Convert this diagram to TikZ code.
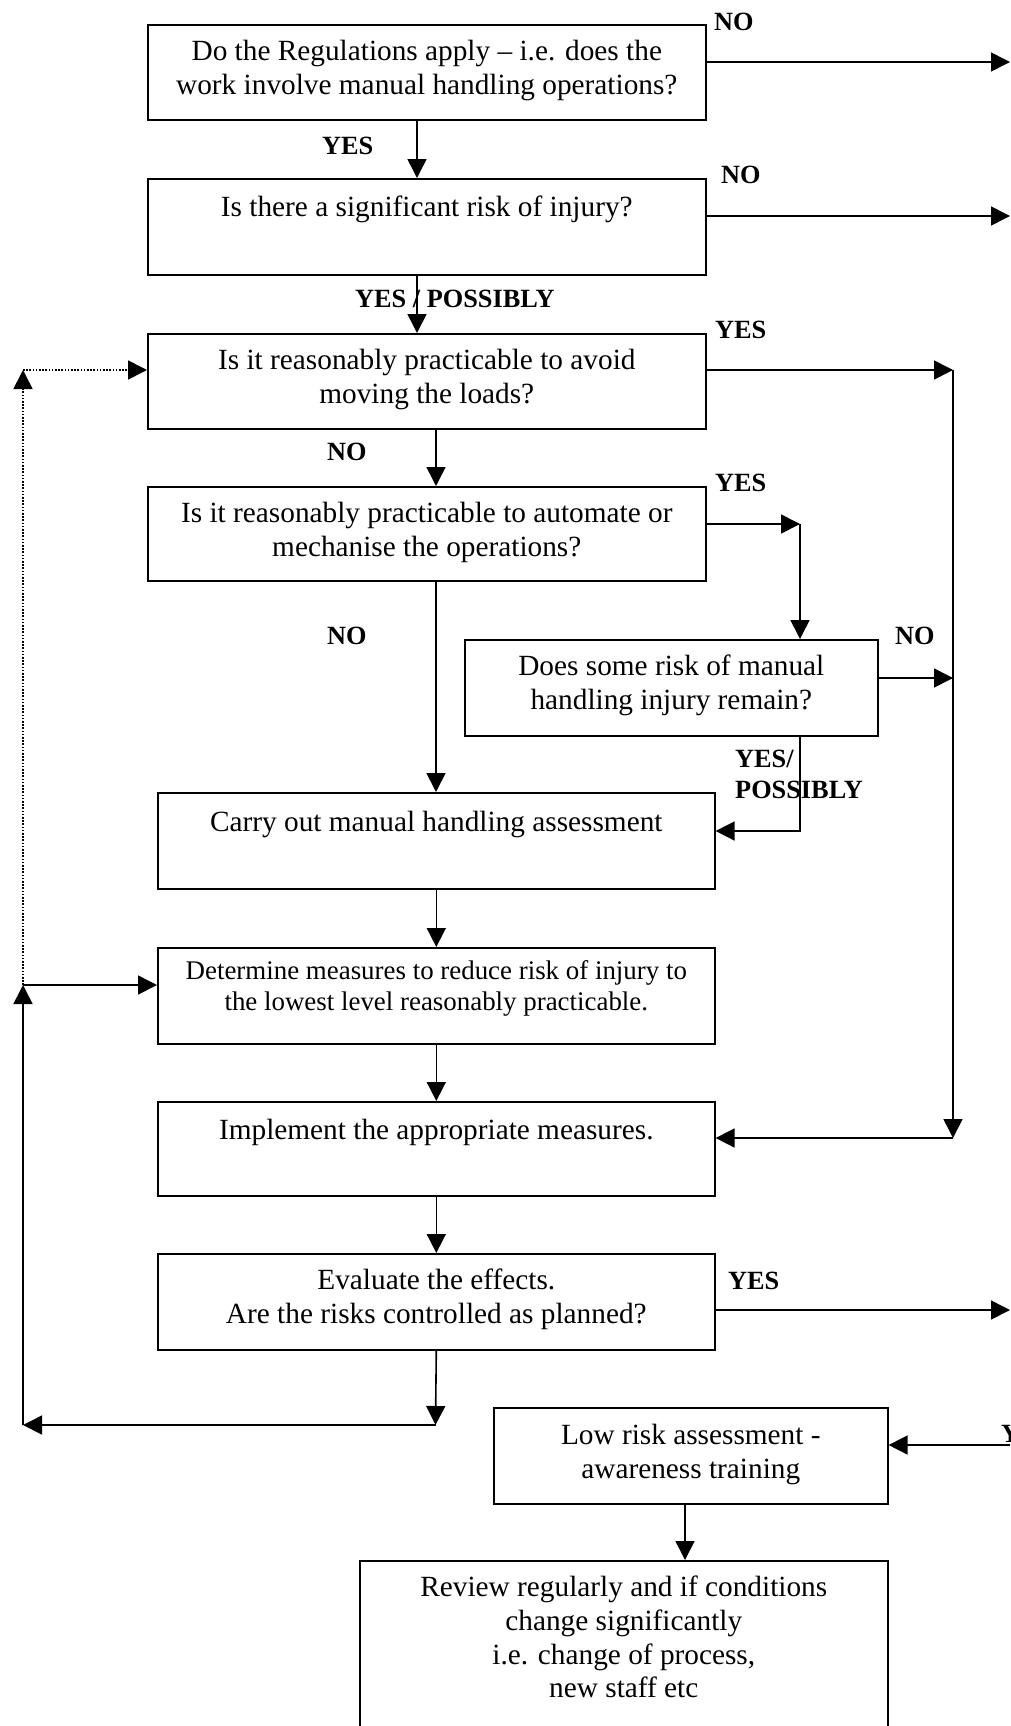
\documentclass[tikz,border=0pt]{standalone}
\usepackage{fontspec}
\setmainfont{Liberation Serif}
\usetikzlibrary{arrows.meta}
\begin{document}
\begin{tikzpicture}[x=1pt,y=-1pt,
  box/.style={draw, line width=1.6pt, inner sep=0pt, anchor=north west, rectangle},
  txt/.style={anchor=north, inner sep=0pt, align=center, font=\fontsize{29.3}{33.7}\selectfont, execute at begin node={\rule{0pt}{22pt}}},
  txtsmall/.style={anchor=north, inner sep=0pt, align=center, font=\fontsize{26.9}{31}\selectfont, execute at begin node={\rule{0pt}{22pt}}},
  lbl/.style={anchor=base west, inner sep=0pt, font=\fontsize{26.3}{30}\selectfont\bfseries},
  arr/.style={line width=1.6pt, -{Triangle[length=19pt,width=19pt]}},
  dots/.style={line width=1.6pt, dash pattern=on 1.6pt off 1.6pt, -{Triangle[length=19pt,width=19pt]}}
]
\useasboundingbox (0,0) rectangle (1010,1726);

% boxes
\node[box, minimum width=558pt, minimum height=95pt] (b1) at (147,24) {};
\node[box, minimum width=558pt, minimum height=96pt] (b2) at (147,178) {};
\node[box, minimum width=558pt, minimum height=95pt] (b3) at (147,333) {};
\node[box, minimum width=558pt, minimum height=94pt] (b4) at (147,486) {};
\node[box, minimum width=413pt, minimum height=96pt] (b5) at (464,639) {};
\node[box, minimum width=557pt, minimum height=96pt] (b6) at (157,792) {};
\node[box, minimum width=557pt, minimum height=96pt] (b7) at (157,947) {};
\node[box, minimum width=557pt, minimum height=94pt] (b8) at (157,1101) {};
\node[box, minimum width=557pt, minimum height=96pt] (b9) at (157,1253) {};
\node[box, minimum width=394pt, minimum height=96pt] (b10) at (493,1407) {};
\node[box, minimum width=528pt, minimum height=180pt] (b11) at (359,1560) {};

% texts
\node[txt] (t1) at ([yshift=-16pt]b1.north) {Do the Regulations apply -- i.e. does the\\work involve manual handling operations?};
\node[txt] (t2) at ([yshift=-16pt]b2.north) {Is there a significant risk of injury?};
\node[txt] (t3) at ([yshift=-16pt]b3.north) {Is it reasonably practicable to avoid\\moving the loads?};
\node[txt] (t4) at ([yshift=-16pt]b4.north) {Is it reasonably practicable to automate or\\mechanise the operations?};
\node[txt] (t5) at ([yshift=-16pt]b5.north) {Does some risk of manual\\handling injury remain?};
\node[txt] (t6) at ([yshift=-17pt]b6.north) {Carry out manual handling assessment};
\node[txtsmall] (t7) at ([yshift=-13pt]b7.north) {Determine measures to reduce risk of injury to\\the lowest level reasonably practicable.};
\node[txt] (t8) at ([yshift=-16pt]b8.north) {Implement the appropriate measures.};
\node[txt] (t9) at ([yshift=-16pt]b9.north) {Evaluate the effects.\\Are the risks controlled as planned?};
\node[txt] (t10) at ([yshift=-17pt]b10.north) {Low risk assessment -\\awareness training};
\node[txt] (t11) at ([yshift=-16pt]b11.north) {Review regularly and if conditions\\change significantly\\i.e. change of process,\\new staff etc};

% helper coordinates
\coordinate (x417) at (417,0);
\coordinate (x436) at (436,0);
\coordinate (x685) at (685,0);
\coordinate (e1) at (1010,62);
\coordinate (e2) at (1010,216);
\coordinate (j3) at (953,370);
\coordinate (j4) at (800,524);
\coordinate (j5) at (953,678);
\coordinate (j5b) at (800,831);
\coordinate (j8) at (953,1138);
\coordinate (e9) at (1010,1310);
\coordinate (e10) at (1010,1445);
\coordinate (j9) at (435.5,1425);
\coordinate (jl) at (23,1425);
\coordinate (jm) at (23,985);
\coordinate (jt) at (23,370);

% main column
\draw[arr] (b1.south -| x417) -- (b2.north -| x417);
\draw[arr] (b2.south -| x417) -- (b3.north -| x417);
\draw[arr] (b3.south -| x436) -- (b4.north -| x436);
\draw[arr] (b4.south -| x436) -- (b6.north -| x436);
\draw[arr] (b6.south) -- (b7.north);
\draw[arr] (b7.south) -- (b8.north);
\draw[arr] (b8.south) -- (b9.north);
\draw[arr] (b9.south) -- (j9);
\draw[arr] (j9) -- (jl);
\draw[arr] (jl) -- (jm);
\draw[arr] (jm) -- (b7.west |- jm);
\draw[dots] (jm) -- (jt);
\draw[dots] (jt) -- (b3.west |- jt);

% right side
\draw[arr] (b1.east |- e1) -- (e1);
\draw[arr] (b2.east |- e2) -- (e2);
\draw[arr] (b3.east |- j3) -- (j3);
\draw[arr] (j3) -- (j8);
\draw[arr] (j8) -- (b8.east |- j8);
\draw[arr] (b4.east |- j4) -- (j4);
\draw[arr] (j4) -- (b5.north -| j4);
\draw[arr] (b5.east |- j5) -- (j5);
\draw[arr] (b5.south -| j5b) -- (j5b) -- (b6.east |- j5b);
\draw[arr] (b9.east |- e9) -- (e9);
\draw[arr] (e10) -- (b10.east |- e10);
\draw[arr] (b10.south -| x685) -- (b11.north -| x685);

% labels
\node[lbl] (l1) at (714,31) {NO};
\node[lbl] (l2) at (322,154) {YES};
\node[lbl] (l3) at (721,183) {NO};
\node[lbl] (l4) at (355,307) {YES / POSSIBLY};
\node[lbl] (l5) at (715,338) {YES};
\node[lbl] (l6) at (327,460) {NO};
\node[lbl] (l7) at (715,491) {YES};
\node[lbl] (l8) at (327,644) {NO};
\node[lbl] (l9) at (895,644) {NO};
\node[lbl] (l10) at (735,767) {YES/};
\node[lbl] (l11) at (735,798) {POSSIBLY};
\node[lbl] (l12) at (728,1289) {YES};
\node[lbl] (l13) at (1001,1442) {YES};
\end{tikzpicture}
\end{document}
